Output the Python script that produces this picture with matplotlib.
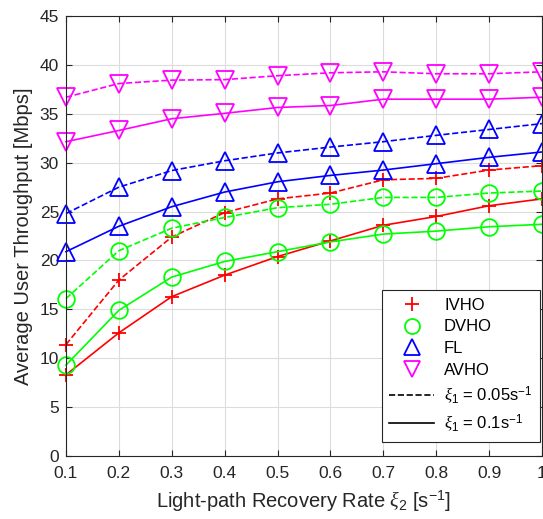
import matplotlib
matplotlib.use("Agg")
import matplotlib.pyplot as plt
from matplotlib.lines import Line2D
import numpy as np

plt.rcParams['font.family'] = ['Liberation Sans', 'DejaVu Sans']
plt.rcParams['mathtext.fontset'] = 'custom'
plt.rcParams['mathtext.rm'] = 'Liberation Sans'
plt.rcParams['mathtext.it'] = 'Liberation Serif:italic'

xi2 = np.array([0.1, 0.2, 0.3, 0.4, 0.5, 0.6, 0.7, 0.8, 0.9, 1.0])

# xi1 = 0.05 (dashed)
ivho_05 = [11.4, 18.0, 22.4, 24.9, 26.3, 26.9, 28.25, 28.4, 29.25, 29.7]
dvho_05 = [16.1, 21.0, 23.3, 24.4, 25.4, 25.75, 26.45, 26.45, 26.9, 27.1]
fl_05 = [24.8, 27.5, 29.2, 30.2, 31.0, 31.6, 32.15, 32.8, 33.4, 34.0]
avho_05 = [36.7, 38.1, 38.45, 38.5, 38.9, 39.2, 39.3, 39.1, 39.1, 39.3]

# xi1 = 0.1 (solid)
ivho_1 = [8.3, 12.6, 16.3, 18.5, 20.4, 22.0, 23.6, 24.5, 25.6, 26.3]
dvho_1 = [9.3, 14.9, 18.3, 19.9, 20.9, 21.9, 22.7, 23.0, 23.45, 23.7]
fl_1 = [20.9, 23.5, 25.5, 27.0, 28.05, 28.7, 29.25, 29.9, 30.55, 31.1]
avho_1 = [32.15, 33.3, 34.5, 35.05, 35.65, 35.85, 36.5, 36.5, 36.5, 36.7]

names = ['IVHO', 'DVHO', 'FL', 'AVHO']
colors = ['#FF0000', '#00FF00', '#0000FF', '#FF00FF']
markers = ['+', 'o', '^', 'v']
msizes = [10.5, 12, 13.5, 13.5]

fig = plt.figure(figsize=(5.43, 5.19), dpi=100)
ax = fig.add_axes([0.1215, 0.1214, 0.8765, 0.8476])

dashed = [ivho_05, dvho_05, fl_05, avho_05]
solid = [ivho_1, dvho_1, fl_1, avho_1]
for i in range(4):
    ax.plot(xi2, dashed[i], ls='--', color=colors[i], marker=markers[i],
            ms=msizes[i], mfc='none', mew=1.3, lw=1.2, clip_on=False)
    ax.plot(xi2, solid[i], ls='-', color=colors[i], marker=markers[i],
            ms=msizes[i], mfc='none', mew=1.3, lw=1.2, clip_on=False)

ax.set_xlim(0.1, 1.0)
ax.set_ylim(0, 45)
ax.set_xticks(xi2)
ax.set_xticklabels(['0.1', '0.2', '0.3', '0.4', '0.5', '0.6', '0.7', '0.8', '0.9', '1'])
ax.set_yticks(np.arange(0, 46, 5))
ax.grid(True, color='#dcdcdc', lw=0.8)
ax.set_axisbelow(True)
ax.tick_params(direction='in', top=True, right=True, labelsize=12.5,
               colors='#262626', length=4)
ax.tick_params(axis='x', pad=7)
ax.tick_params(axis='y', pad=5)
for s in ax.spines.values():
    s.set_color('#262626')
    s.set_linewidth(0.8)

ax.set_xlabel(r'Light-path Recovery Rate $\xi_2$ [s$^{-1}$]', fontsize=14.5,
              color='#262626', labelpad=6)
ax.set_ylabel('Average User Throughput [Mbps]', fontsize=14.5, color='#262626',
              labelpad=5)

handles = []
for i in range(4):
    handles.append(Line2D([], [], ls='none', color=colors[i], marker=markers[i],
                          ms=msizes[i] * 0.9, mfc='none', mew=1.3))
handles.append(Line2D([], [], ls='--', color='black', lw=1.2))
handles.append(Line2D([], [], ls='-', color='black', lw=1.2))
labels = names + [r'$\xi_1$ = 0.05s$^{-1}$', r'$\xi_1$ = 0.1s$^{-1}$']
leg = ax.legend(handles, labels, loc='lower right', bbox_to_anchor=(0.996, 0.032),
                borderaxespad=0, fontsize=12, fancybox=False,
                edgecolor='#262626', framealpha=1, handlelength=2.7,
                handletextpad=0.6, labelspacing=0.4, borderpad=0.45)
leg.get_frame().set_linewidth(0.8)

fig.savefig('out.png', dpi=100)
